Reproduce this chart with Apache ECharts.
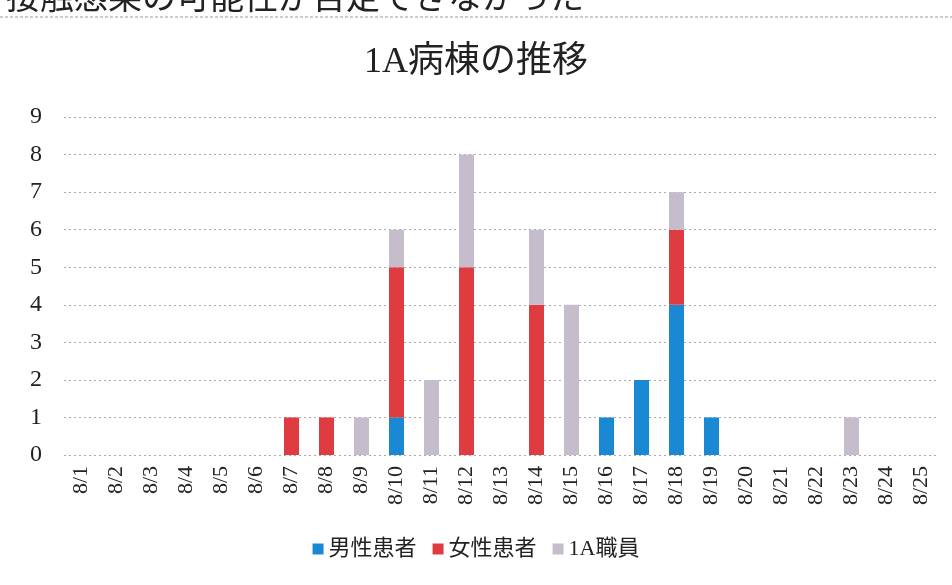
<!DOCTYPE html>
<html>
<head>
<meta charset="utf-8">
<script src="https://cdn.jsdelivr.net/npm/echarts@6/dist/echarts.min.js"></script>
<style>
html,body{margin:0;padding:0;background:#fff;}
#chart{width:952px;height:585px;}
</style>
</head>
<body>
<div id="chart"></div>
<script>
const categories = ['8/1','8/2','8/3','8/4','8/5','8/6','8/7','8/8','8/9','8/10','8/11','8/12','8/13','8/14','8/15','8/16','8/17','8/18','8/19','8/20','8/21','8/22','8/23','8/24','8/25'];
const malePatients   = [0,0,0,0,0,0,0,0,0,1,0,0,0,0,0,1,2,4,1,0,0,0,0,0,0];
const femalePatients = [0,0,0,0,0,0,1,1,0,4,0,5,0,4,0,0,0,2,0,0,0,0,0,0,0];
const staff1A        = [0,0,0,0,0,0,0,0,1,1,2,3,0,2,4,0,0,1,0,0,0,0,1,0,0];
const seriesNames = ['男性患者','女性患者','1A職員'];
const titleText = '1A病棟の推移';
const headerText = '接触感染の可能性が否定できなかった';

const serif = '"Liberation Serif","DejaVu Serif","Noto Sans CJK JP",serif';
const chart = echarts.init(document.getElementById('chart'));
const nz = arr => arr.map(v => v === 0 ? null : v);
const mk = (name, data, color) => ({
  name, type:'bar', stack:'a', data: nz(data), barWidth:15,
  itemStyle:{color}
});
chart.setOption({
  animation:false,
  backgroundColor:'#fff',
  title:{text:titleText,left:'center',top:40,
    textStyle:{fontFamily:serif,fontSize:36,fontWeight:'normal',color:'#222'}},
  graphic:[
    {type:'text',left:6,top:-21,style:{text:headerText,font:'34px "Noto Sans CJK JP"',fill:'#222'}},
    {type:'line',shape:{x1:0,y1:17,x2:952,y2:17},style:{stroke:'#999',lineWidth:1,lineDash:[3,2]}}
  ],
  legend:{bottom:20,left:'center',itemWidth:11,itemHeight:11,itemGap:16,icon:'rect',
    textStyle:{fontFamily:serif,fontSize:22,color:'#222'},
    data:seriesNames},
  grid:{left:64,right:13,top:117,bottom:130},
  xAxis:{type:'category',data:categories,
    axisLine:{show:false},axisTick:{show:false},
    axisLabel:{rotate:90,fontFamily:serif,fontSize:22,color:'#222',margin:11,interval:0}},
  yAxis:{type:'value',min:0,max:9,interval:1,
    axisLine:{show:false},axisTick:{show:false},
    axisLabel:{fontFamily:serif,fontSize:24,color:'#222',margin:22},
    splitLine:{lineStyle:{color:'#aaa',type:[2,3]}}},
  series:[
    mk(seriesNames[0], malePatients, '#1a88d2'),
    mk(seriesNames[1], femalePatients, '#df3c41'),
    mk(seriesNames[2], staff1A, '#c5bdcc')
  ]
});
</script>
</body>
</html>
